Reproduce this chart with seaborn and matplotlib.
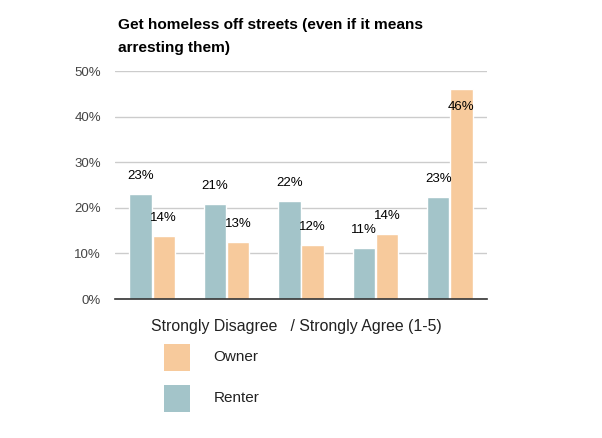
import matplotlib
matplotlib.use('Agg')
import matplotlib.pyplot as plt
import seaborn as sns
import pandas as pd
from matplotlib.patches import Rectangle

# ---------- data ----------
CATEGORIES = ["1", "2", "3", "4", "5"]
RENTER = [0.230, 0.208, 0.215, 0.112, 0.224]
OWNER = [0.138, 0.125, 0.118, 0.143, 0.461]
RENTER_LABELS = ["23%", "21%", "22%", "11%", "23%"]
OWNER_LABELS = ["14%", "13%", "12%", "14%", "46%"]
Y_TICKS = [0.0, 0.1, 0.2, 0.3, 0.4, 0.5]
Y_TICK_LABELS = ["0%", "10%", "20%", "30%", "40%", "50%"]
LEGEND_NAMES = ["Owner", "Renter"]

TITLE = "Get homeless off streets (even if it means\narresting them)"
XLABEL = "Strongly Disagree   / Strongly Agree (1-5)"

RENTER_COLOR = "#a3c4c9"
OWNER_COLOR = "#f7ca9c"
# --------------------------

sns.set_theme(style="white")
plt.rcParams['font.family'] = ['Liberation Sans', 'DejaVu Sans']

df = pd.DataFrame({
    "category": CATEGORIES * 2,
    "value": RENTER + OWNER,
    "group": ["Renter"] * len(CATEGORIES) + ["Owner"] * len(CATEGORIES),
})

fig = plt.figure(figsize=(6.02, 4.38), dpi=100)
ax = fig.add_axes([115 / 602, 1 - 299 / 438, 372 / 602, 228 / 438])

sns.barplot(data=df, x="category", y="value", hue="group",
            hue_order=["Renter", "Owner"], order=CATEGORIES,
            palette={"Renter": RENTER_COLOR, "Owner": OWNER_COLOR},
            width=0.62, gap=0.03, saturation=1, legend=False, ax=ax)

ax.set_ylim(0, 0.5)
ax.set_xlim(-0.5, len(CATEGORIES) - 0.5)
ax.set_yticks(Y_TICKS)
ax.set_yticklabels(Y_TICK_LABELS, color="#444444", fontsize=9.5)
ax.set_xticks([])
ax.set_xlabel("")
ax.set_ylabel("")
ax.tick_params(axis="y", length=0, pad=10)
ax.yaxis.grid(True, color="#cccccc", linewidth=1)
ax.set_axisbelow(True)
for side in ("left", "right", "top"):
    ax.spines[side].set_visible(False)
ax.spines["bottom"].set_color("#333333")
ax.spines["bottom"].set_linewidth(1.2)

# value labels
for container, labels in zip(ax.containers, [RENTER_LABELS, OWNER_LABELS]):
    for bar, lab in zip(container, labels):
        cx = bar.get_x() + bar.get_width() / 2
        top = bar.get_height()
        dy = 13 if top < 0.4 else -13
        ax.annotate(lab, (cx, top), xytext=(0, dy), textcoords="offset points",
                    ha="center", va="center", fontsize=9.5, color="black")

fig.text(118 / 602, 1 - 18 / 438, TITLE, ha="left", va="top",
         fontsize=11.1, fontweight="bold", linespacing=1.8, color="black")
fig.text(296 / 602, 1 - 326 / 438, XLABEL, ha="center", va="center",
         fontsize=11.4, color="#222222")

# legend drawn as swatches in figure pixels
for i, (name, col) in enumerate(zip(LEGEND_NAMES, [OWNER_COLOR, RENTER_COLOR])):
    top_px = 344 + i * 41
    fig.patches.append(Rectangle((164 / 602, 1 - (top_px + 27) / 438),
                                 26 / 602, 27 / 438, transform=fig.transFigure,
                                 facecolor=col, edgecolor="none"))
    fig.text((213 + i) / 602, 1 - (top_px + 13) / 438, name,
             ha="left", va="center", fontsize=11, color="#222222")

fig.savefig("out.png", dpi=100)
